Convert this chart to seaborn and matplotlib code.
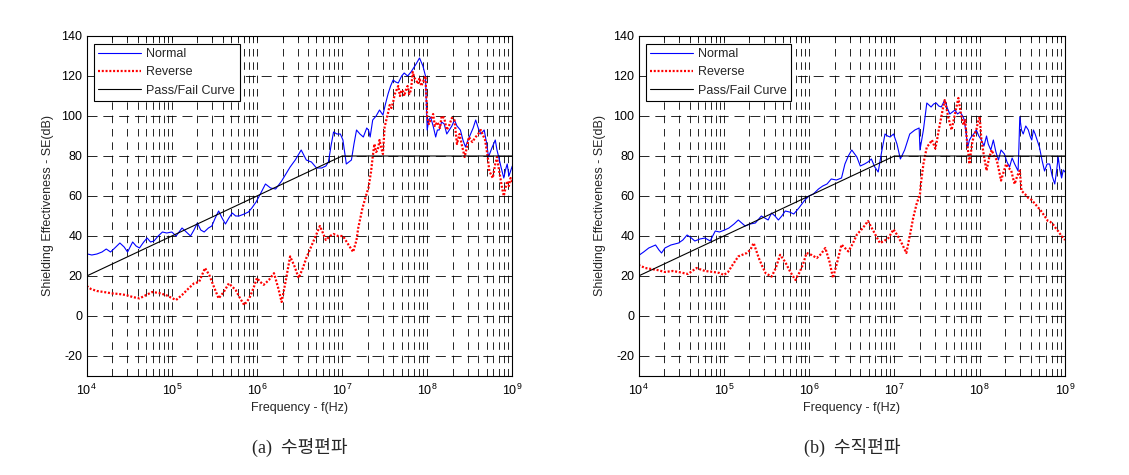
import matplotlib
matplotlib.use("Agg")
import matplotlib.pyplot as plt
import numpy as np
import pandas as pd
import seaborn as sns

# ─── Data (log10 of frequency in Hz, shielding effectiveness in dB) ──────────
A_NORMAL_LOGF = [4.00, 4.01, 4.06, 4.12, 4.18, 4.23, 4.28, 4.33, 4.39, 4.44, 4.48, 4.54, 4.58, 4.62,
                 4.67, 4.71, 4.75, 4.79, 4.84, 4.89, 4.94, 5.00, 5.05, 5.12, 5.17, 5.22, 5.26, 5.30,
                 5.34, 5.38, 5.43, 5.47, 5.51, 5.55, 5.59, 5.63, 5.67, 5.71, 5.75, 5.79, 5.85, 5.90,
                 5.94, 5.99, 6.04, 6.10, 6.16, 6.22, 6.29, 6.34, 6.39, 6.45, 6.52, 6.58, 6.64, 6.70,
                 6.76, 6.81, 6.84, 6.87, 6.90, 6.94, 6.98, 7.01, 7.05, 7.11, 7.14, 7.17, 7.21, 7.25,
                 7.29, 7.31, 7.33, 7.36, 7.40, 7.44, 7.48, 7.51, 7.54, 7.57, 7.60, 7.63, 7.66, 7.70,
                 7.73, 7.77, 7.81, 7.84, 7.87, 7.91, 7.93, 7.95, 7.98, 8.00, 8.02, 8.04, 8.07, 8.10,
                 8.12, 8.14, 8.17, 8.20, 8.23, 8.26, 8.29, 8.32, 8.35, 8.39, 8.42, 8.45, 8.48, 8.51,
                 8.54, 8.57, 8.60, 8.63, 8.67, 8.70, 8.72, 8.76, 8.80, 8.82, 8.84, 8.87, 8.90, 8.92,
                 8.94, 8.96, 8.98, 9.00]
A_NORMAL_DB = [29, 31, 30.5, 31, 32, 33.5, 32, 34, 36.5, 34.5, 32, 37, 35, 34,
               37, 39, 37, 37.5, 40, 42, 41.5, 42, 40, 44, 42, 40, 43, 46.5,
               43, 42, 44, 45, 49, 52.5, 49, 46, 49, 51.5, 50, 50, 51, 52,
               54, 57, 61, 66, 64, 63.5, 67.5, 71, 74.5, 78, 83, 78, 77, 74,
               74, 75, 77, 85, 92, 91, 91, 88, 76, 78, 86, 93, 91, 89.5,
               94, 93, 89.5, 98, 100, 103, 100.5, 106, 111, 115, 118, 117, 116.5, 120,
               121.5, 120, 122, 124, 126, 129, 127, 125, 120, 93, 98, 99.5, 95, 89.5,
               93, 93, 97, 96, 91, 93, 95, 98, 95, 93, 88, 84.5, 88, 91,
               94, 98, 94, 91, 93, 86, 79.5, 84, 88, 83, 79.5, 74, 69, 73,
               76, 70, 72.5, 75]

A_REVERSE_LOGF = [4.00, 4.05, 4.12, 4.20, 4.30, 4.38, 4.46, 4.54, 4.62, 4.70, 4.77, 4.85, 4.93, 5.00,
                  5.05, 5.12, 5.19, 5.26, 5.32, 5.36, 5.39, 5.44, 5.50, 5.55, 5.61, 5.67, 5.75, 5.80,
                  5.85, 5.91, 5.96, 6.00, 6.04, 6.08, 6.14, 6.20, 6.25, 6.29, 6.34, 6.39, 6.44, 6.49,
                  6.54, 6.58, 6.63, 6.68, 6.74, 6.78, 6.81, 6.86, 6.90, 6.95, 7.01, 7.07, 7.13, 7.17,
                  7.19, 7.24, 7.28, 7.31, 7.34, 7.36, 7.38, 7.40, 7.42, 7.44, 7.46, 7.48, 7.50, 7.52,
                  7.54, 7.56, 7.58, 7.60, 7.62, 7.64, 7.66, 7.68, 7.70, 7.72, 7.73, 7.75, 7.77, 7.79,
                  7.81, 7.83, 7.85, 7.87, 7.89, 7.91, 7.93, 7.95, 7.98, 8.00, 8.02, 8.04, 8.07, 8.09,
                  8.12, 8.15, 8.17, 8.20, 8.23, 8.26, 8.29, 8.32, 8.35, 8.38, 8.41, 8.44, 8.47, 8.49,
                  8.53, 8.57, 8.60, 8.63, 8.66, 8.68, 8.71, 8.73, 8.77, 8.80, 8.82, 8.84, 8.86, 8.88,
                  8.90, 8.92, 8.94, 8.96, 8.98, 9.00]
A_REVERSE_DB = [15, 13.5, 12.5, 12, 11.3, 11, 10.5, 9.5, 8.8, 10.5, 12, 11.5, 10.5, 9,
                8, 10.5, 13.5, 16.3, 17, 21, 24, 20.5, 14, 8.8, 12, 16.3, 13, 9,
                5.5, 8.8, 14, 19, 17, 15.6, 18, 21.4, 14, 7, 18, 29.8, 25, 19,
                24, 29, 34, 39, 45, 41, 38, 40, 41, 40, 40, 36, 32, 38,
                44, 54, 60, 64, 72, 79.5, 86, 82, 83, 88, 84, 81, 94.5, 98,
                101.5, 105.5, 104, 107, 111, 113, 115, 110, 113, 112, 110, 113, 115, 111,
                113, 122, 119, 118, 116, 119, 115, 117, 120, 99.5, 96, 98, 101, 95,
                97, 94, 100, 99, 93, 95.5, 99, 98, 86, 91, 85, 79.5, 85, 89.5,
                87, 89.5, 91, 93, 90, 88, 80, 72.5, 69, 76, 79.5, 74, 69, 64,
                60, 64, 67.5, 65, 69, 67]

B_NORMAL_LOGF = [4.00, 4.01, 4.06, 4.12, 4.20, 4.24, 4.27, 4.31, 4.38, 4.47, 4.52, 4.57, 4.62, 4.66,
                 4.72, 4.78, 4.84, 4.90, 4.95, 5.01, 5.06, 5.12, 5.17, 5.21, 5.25, 5.31, 5.37, 5.44,
                 5.48, 5.52, 5.56, 5.60, 5.64, 5.68, 5.72, 5.77, 5.82, 5.88, 5.95, 6.00, 6.05, 6.11,
                 6.16, 6.21, 6.26, 6.32, 6.38, 6.42, 6.46, 6.50, 6.56, 6.60, 6.65, 6.69, 6.73, 6.77,
                 6.81, 6.85, 6.89, 6.92, 6.95, 6.99, 7.03, 7.07, 7.12, 7.15, 7.18, 7.24, 7.29, 7.30,
                 7.34, 7.38, 7.43, 7.46, 7.49, 7.52, 7.55, 7.59, 7.62, 7.65, 7.68, 7.71, 7.74, 7.77,
                 7.80, 7.82, 7.86, 7.88, 7.90, 7.93, 7.96, 7.99, 8.02, 8.05, 8.08, 8.10, 8.13, 8.16,
                 8.19, 8.22, 8.25, 8.29, 8.32, 8.35, 8.38, 8.41, 8.45, 8.46, 8.47, 8.49, 8.51, 8.54,
                 8.57, 8.59, 8.61, 8.63, 8.65, 8.68, 8.70, 8.73, 8.76, 8.79, 8.82, 8.85, 8.88, 8.90,
                 8.92, 8.94, 8.96, 8.98, 9.00]
B_NORMAL_DB = [29, 30.5, 32, 34, 35.5, 33, 31.5, 34, 35.5, 36.5, 38, 40.5, 39, 37.5,
               38.5, 39, 37.5, 42.5, 42, 43, 44, 46, 48, 46.5, 45, 46, 46.5, 50,
               49, 48, 51.5, 50, 48, 50, 52.5, 52, 51, 54, 58, 60, 61, 63.5,
               65, 66, 68.5, 68, 69, 76, 80, 83, 79.5, 75, 76, 77, 78.5, 74.5,
               72, 82, 91, 90, 89.5, 91, 86, 78.5, 83, 87, 91, 93, 94, 83,
               93, 106.5, 104.5, 106, 106.5, 105, 104.5, 108, 104, 101, 102, 103, 101, 102,
               100, 98, 84.5, 88, 89.5, 91, 93, 90, 88, 85, 90, 86, 83, 88,
               82, 78, 83, 81, 77, 74.5, 79, 76, 72.5, 85, 99.5, 93, 91, 95,
               93, 90, 88, 93, 91, 87, 84.5, 78, 72.5, 76, 76, 70, 66, 72,
               79.5, 73, 69, 73, 72]

B_REVERSE_LOGF = [4.00, 4.08, 4.15, 4.22, 4.31, 4.40, 4.47, 4.58, 4.63, 4.68, 4.78, 4.88, 4.95, 5.00,
                  5.05, 5.09, 5.17, 5.27, 5.31, 5.35, 5.41, 5.45, 5.49, 5.56, 5.61, 5.66, 5.72, 5.78,
                  5.84, 5.89, 5.93, 5.97, 6.03, 6.09, 6.14, 6.19, 6.24, 6.28, 6.33, 6.38, 6.42, 6.46,
                  6.51, 6.56, 6.63, 6.69, 6.76, 6.83, 6.88, 6.93, 6.99, 7.04, 7.09, 7.14, 7.18, 7.22,
                  7.26, 7.30, 7.31, 7.34, 7.38, 7.41, 7.44, 7.48, 7.50, 7.52, 7.55, 7.57, 7.59, 7.61,
                  7.63, 7.67, 7.69, 7.71, 7.73, 7.75, 7.78, 7.81, 7.83, 7.85, 7.88, 7.91, 7.93, 7.96,
                  7.98, 8.00, 8.02, 8.05, 8.08, 8.11, 8.14, 8.17, 8.20, 8.23, 8.25, 8.28, 8.31, 8.34,
                  8.37, 8.39, 8.41, 8.44, 8.47, 8.49, 8.53, 8.57, 8.61, 8.65, 8.69, 8.72, 8.76, 8.80,
                  8.83, 8.86, 8.89, 8.92, 8.96, 9.00]
B_REVERSE_DB = [25.5, 24, 23.5, 23, 22, 22.5, 22, 21, 22.5, 24, 22.5, 22, 21.5, 20.5,
                22, 24.7, 29.8, 31.5, 33, 36.5, 29, 25, 21.4, 19.7, 24, 30.6, 27, 22,
                18, 22, 26, 31.5, 30.5, 29, 31, 34, 27, 19, 27, 35.7, 34, 32.3,
                36, 40.7, 44, 47.5, 42, 36.5, 37.5, 39, 43.3, 40, 36, 31.5, 40, 49,
                56, 61, 66, 76, 84.5, 86, 88, 83.7, 88, 93, 99.6, 104, 108, 104,
                99.6, 93, 97, 101, 105, 109, 101, 95.5, 98, 88, 76, 86, 90, 93,
                97, 99.6, 88, 80, 72.7, 79, 83, 80, 78, 72, 67.7, 72, 76, 74,
                72.7, 69, 66, 70, 72.7, 62.6, 61, 59, 58, 56, 54, 52.5, 50, 47.5,
                47, 45.8, 44, 42.4, 40, 38]

PASSFAIL_LOGF = [4, 7, 9]
PASSFAIL_DB = [20, 80, 80]

Y_TICKS = [-20, 0, 20, 40, 60, 80, 100, 120, 140]
CAPTIONS = ["(a)  수평편파", "(b)  수직편파"]

# ─── Style ───────────────────────────────────────────────────────────────────
sns.set_style("white")
plt.rcParams["font.family"] = ["Liberation Sans", "DejaVu Sans"]
plt.rcParams["mathtext.fontset"] = "custom"
plt.rcParams["mathtext.rm"] = "Liberation Sans"
plt.rcParams["axes.unicode_minus"] = False

W, H = 1129, 475
FS = 9
fig = plt.figure(figsize=(W / 100, H / 100), dpi=100)


def to_frame(logf, db):
    return pd.DataFrame({"f": np.power(10.0, logf), "se": db})


def draw_panel(ax, normal, reverse, caption):
    sns.lineplot(data=to_frame(*normal), x="f", y="se", ax=ax, color="#0000ff",
                 linewidth=0.8, label="Normal", estimator=None, sort=False)
    sns.lineplot(data=to_frame(*reverse), x="f", y="se", ax=ax, color="#ff0000",
                 linewidth=1.6, linestyle=(0, (0.9, 0.8)), label="Reverse",
                 estimator=None, sort=False)
    sns.lineplot(data=to_frame(PASSFAIL_LOGF, PASSFAIL_DB), x="f", y="se", ax=ax,
                 color="black", linewidth=0.8, label="Pass/Fail Curve",
                 estimator=None, sort=False)

    ax.set_xscale("log")
    ax.set_xlim(1e4, 1e9)
    ax.set_ylim(-30, 140)
    ax.set_yticks(Y_TICKS)
    ax.grid(True, which="both", axis="x", color="black", linewidth=0.6,
            linestyle=(0, (9, 7)))
    ax.grid(True, which="major", axis="y", color="black", linewidth=0.6,
            linestyle=(0, (12, 7)))
    ax.set_axisbelow(True)
    ax.tick_params(axis="both", which="both", direction="in", top=True, right=True,
                   labelsize=FS, colors="black", length=3, width=0.6, pad=3)
    ax.tick_params(axis="x", which="minor", length=2)
    ax.tick_params(axis="x", which="major", pad=5)
    for s in ax.spines.values():
        s.set_color("black")
        s.set_linewidth(0.8)

    ax.set_xlabel("Frequency - f(Hz)", fontsize=FS)
    ax.set_ylabel("Shielding Effectiveness - SE(dB)", fontsize=FS)
    ax.xaxis.set_label_coords(0.5, -0.076)
    ax.yaxis.set_label_coords(-0.077, 0.5)

    leg = ax.legend(loc="upper left", bbox_to_anchor=(0.017, 0.977), borderaxespad=0,
                    fontsize=FS, handlelength=3.4, handletextpad=0.45,
                    labelspacing=0.5, borderpad=0.35, fancybox=False,
                    framealpha=1, edgecolor="black")
    leg.get_frame().set_linewidth(0.8)

    pos = ax.get_position()
    fig.text(pos.x0 + pos.width / 2, 1 - 447 / H, caption, ha="center", va="center",
             fontsize=13, family=["Liberation Serif", "Noto Sans CJK KR"])


ax_a = fig.add_axes([86.7 / W, (H - 376) / H, 425.6 / W, 340 / H])
ax_b = fig.add_axes([638.5 / W, (H - 376) / H, 426.5 / W, 340 / H])

draw_panel(ax_a, (A_NORMAL_LOGF, A_NORMAL_DB), (A_REVERSE_LOGF, A_REVERSE_DB), CAPTIONS[0])
draw_panel(ax_b, (B_NORMAL_LOGF, B_NORMAL_DB), (B_REVERSE_LOGF, B_REVERSE_DB), CAPTIONS[1])

fig.savefig("out.png", dpi=100)
